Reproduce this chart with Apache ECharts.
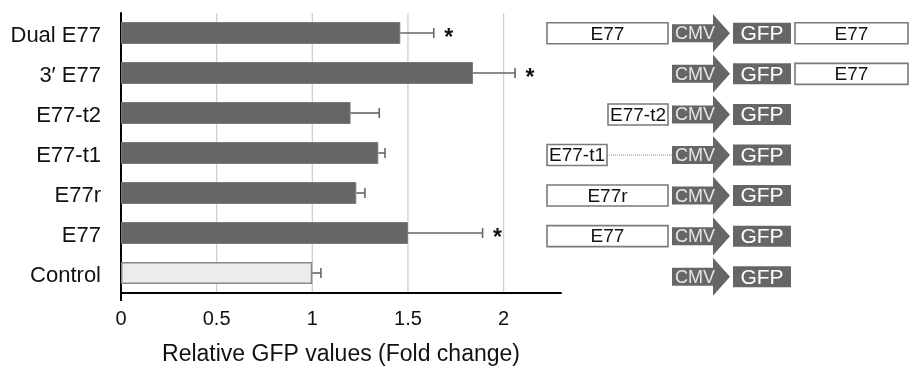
<!DOCTYPE html>
<html>
<head>
<meta charset="utf-8">
<script src="https://cdn.jsdelivr.net/npm/echarts@6/dist/echarts.min.js"></script>
<style>
html,body{margin:0;padding:0;background:#fff;}
#chart{width:910px;height:371px;}
</style>
</head>
<body>
<div id="chart"></div>
<script>
// ---- data (top to bottom) ----
const categories = ['Dual E77', '3\u2032 E77', 'E77-t2', 'E77-t1', 'E77r', 'E77', 'Control'];
const foldChange = [1.46, 1.84, 1.20, 1.345, 1.23, 1.50, 1.00];
const errorPlus  = [0.175, 0.22, 0.15, 0.035, 0.045, 0.39, 0.045];
const significant = [true, true, false, false, false, true, false];
const tickLabels = [0, 0.5, 1, 1.5, 2];
const axisTitle = 'Relative GFP values (Fold change)';
// construct elements per row
const constructs = [
  ['E77', 'CMV', 'GFP', 'E77'],
  ['CMV', 'GFP', 'E77'],
  ['E77-t2', 'CMV', 'GFP'],
  ['E77-t1', 'CMV', 'GFP'],
  ['E77r', 'CMV', 'GFP'],
  ['E77', 'CMV', 'GFP'],
  ['CMV', 'GFP']
];

// ---- layout (diagram units along hidden axis) ----
const FONT = '"Liberation Sans", Arial, Helvetica, sans-serif';
const upstreamSpan = { 'E77': [7, 128], 'E77r': [7, 128], 'E77-t2': [68, 128], 'E77-t1': [7, 67] };
const cmvSpan = [132, 173], arrowTip = 190, gfpSpan = [193, 251], downSpan = [255, 368];

const chart = echarts.init(document.getElementById('chart'), null, { renderer: 'canvas' });

function renderGrid(params, api) {
  const v = api.value(0);
  const cs = params.coordSys;
  const x = api.coord([v, 0])[0];
  return { type: 'line', shape: { x1: x, y1: cs.y, x2: x, y2: cs.y + cs.height },
    style: { stroke: '#cfcfcf', lineWidth: 1.3 } };
}

function renderError(params, api) {
  const idx = api.value(1);
  const v = api.value(0), e = api.value(2);
  const p1 = api.coord([v, idx]);
  const p2 = api.coord([v + e, idx]);
  const st = { stroke: '#666', lineWidth: 1.6 };
  const children = [
    { type: 'line', shape: { x1: p1[0], y1: p1[1], x2: p2[0], y2: p2[1] }, style: st },
    { type: 'line', shape: { x1: p2[0], y1: p2[1] - 5, x2: p2[0], y2: p2[1] + 5 }, style: st }
  ];
  if (significant[idx]) {
    children.push({ type: 'text', style: { text: '*', x: p2[0] + 15, y: p2[1] + 6, align: 'center', verticalAlign: 'middle',
      font: 'bold 23px ' + FONT, fill: '#111' } });
  }
  return { type: 'group', children };
}

function whiteBox(x1, x2, cy, label) {
  return [
    { type: 'rect', shape: { x: x1, y: cy - 10.5, width: x2 - x1, height: 21 },
      style: { fill: '#fff', stroke: '#7a7a7a', lineWidth: 1.6 } },
    { type: 'text', style: { text: label, x: (x1 + x2) / 2, y: cy + 1, align: 'center', verticalAlign: 'middle',
      font: '19px ' + FONT, fill: '#111' } }
  ];
}

function renderConstruct(params, api) {
  const row = api.value(1);
  const els = constructs[row];
  const cy = api.coord([0, row])[1];
  const X = v => api.coord([v, row])[0];
  let children = [];
  const ci = els.indexOf('CMV');
  if (ci > 0) {
    const up = els[0];
    const sp = upstreamSpan[up];
    if (sp[1] < cmvSpan[0] - 10) {
      children.push({ type: 'line', shape: { x1: X(sp[1]), y1: cy, x2: X(cmvSpan[0]), y2: cy },
        style: { stroke: '#888', lineWidth: 1, lineDash: [1, 1] } });
    }
    children = children.concat(whiteBox(X(sp[0]), X(sp[1]), cy, up));
  }
  // CMV promoter arrow
  children.push({ type: 'polygon', shape: { points: [
      [X(cmvSpan[0]), cy - 9], [X(cmvSpan[1]), cy - 9], [X(cmvSpan[1]), cy - 19], [X(arrowTip), cy],
      [X(cmvSpan[1]), cy + 19], [X(cmvSpan[1]), cy + 9], [X(cmvSpan[0]), cy + 9]] },
    style: { fill: '#666' } });
  children.push({ type: 'text', style: { text: 'CMV', x: X(cmvSpan[0] + 23), y: cy + 1, align: 'center', verticalAlign: 'middle',
    font: '18px ' + FONT, fill: '#e6e6e6' } });
  // GFP
  children.push({ type: 'rect', shape: { x: X(gfpSpan[0]), y: cy - 10.5, width: X(gfpSpan[1]) - X(gfpSpan[0]), height: 21 },
    style: { fill: '#666' } });
  children.push({ type: 'text', style: { text: 'GFP', x: (X(gfpSpan[0]) + X(gfpSpan[1])) / 2, y: cy + 1, align: 'center', verticalAlign: 'middle',
    font: '21px ' + FONT, fill: '#fff' } });
  const gi = els.indexOf('GFP');
  if (gi < els.length - 1) {
    children = children.concat(whiteBox(X(downSpan[0]), X(downSpan[1]), cy, els[gi + 1]));
  }
  return { type: 'group', children };
}

const option = {
  animation: false,
  backgroundColor: '#fff',
  grid: [
    { left: 121, right: 349, top: 13, bottom: 74 },
    { left: 540, right: 0, top: 13, bottom: 74 }
  ],
  xAxis: [
    {
      type: 'value', gridIndex: 0, min: 0, max: 2.3, interval: 0.5,
      name: axisTitle, nameLocation: 'middle', nameGap: 50,
      nameTextStyle: { fontSize: 23, color: '#111', fontFamily: FONT },
      axisLine: { show: true, onZero: false, lineStyle: { color: '#000', width: 2 } },
      axisTick: { show: true, customValues: [0], length: 8, lineStyle: { color: '#000', width: 2 } },
      axisLabel: { customValues: tickLabels, fontSize: 20, color: '#111', fontFamily: FONT, margin: 16,
        formatter: v => String(v) },
      splitLine: { show: false }
    },
    { type: 'value', gridIndex: 1, min: 0, max: 370, show: false }
  ],
  yAxis: [
    {
      type: 'category', gridIndex: 0, data: categories, inverse: true,
      axisLine: { show: true, lineStyle: { color: '#000', width: 2 } },
      axisTick: { show: false },
      axisLabel: { color: '#111', margin: 20,
        formatter: v => '{a|' + v + '}',
        rich: { a: { fontSize: 22, color: '#111', fontFamily: FONT, padding: [6, 0, 0, 0] } } }
    },
    { type: 'category', gridIndex: 1, data: categories, inverse: true, show: false }
  ],
  series: [
    {
      type: 'custom', xAxisIndex: 0, yAxisIndex: 0, z: 0, silent: true,
      renderItem: renderGrid,
      data: tickLabels.filter(t => t > 0).map(t => [t])
    },
    {
      type: 'bar', xAxisIndex: 0, yAxisIndex: 0, barWidth: 22, z: 2,
      data: foldChange.map((v, i) => ({
        value: v,
        itemStyle: categories[i] === 'Control'
          ? { color: '#ececec', borderColor: '#888', borderWidth: 1.5 }
          : { color: '#666', borderColor: '#7a7a7a', borderWidth: 1 }
      }))
    },
    {
      type: 'custom', xAxisIndex: 0, yAxisIndex: 0, z: 3,
      renderItem: renderError,
      data: foldChange.map((v, i) => [v, i, errorPlus[i]])
    },
    {
      type: 'custom', xAxisIndex: 1, yAxisIndex: 1, z: 3,
      renderItem: renderConstruct,
      data: constructs.map((c, i) => [0, i])
    }
  ]
};
chart.setOption(option);
</script>
</body>
</html>
